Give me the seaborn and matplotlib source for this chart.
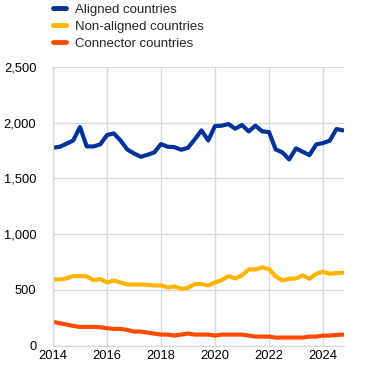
import numpy as np
import pandas as pd
import matplotlib
matplotlib.use("Agg")
import matplotlib.pyplot as plt
import seaborn as sns
from matplotlib.ticker import FuncFormatter

# Quarterly data, 2014Q1 - 2024Q4
quarters = [2014 + 0.25 * i for i in range(44)]
aligned = [1775, 1784, 1811, 1841, 1961, 1787, 1787, 1805, 1889, 1904,
           1841, 1760, 1724, 1694, 1712, 1733, 1808, 1784, 1781, 1757,
           1775, 1850, 1931, 1841, 1970, 1973, 1988, 1946, 1979, 1922,
           1973, 1922, 1916, 1760, 1733, 1670, 1769, 1739, 1709, 1805,
           1817, 1838, 1943, 1931]
non_aligned = [593, 593, 602, 623, 623, 620, 587, 596, 566, 584,
               566, 548, 548, 548, 545, 539, 539, 521, 530, 509,
               518, 551, 551, 539, 566, 587, 623, 602, 629, 683,
               683, 701, 686, 620, 584, 599, 602, 629, 599, 644,
               662, 644, 650, 653]
connector = [212, 200, 188, 176, 167, 167, 167, 164, 155, 149,
             149, 140, 125, 125, 116, 107, 98, 98, 89, 98,
             107, 98, 98, 98, 89, 98, 98, 98, 98, 89,
             80, 80, 80, 71, 71, 71, 71, 71, 80, 80,
             89, 89, 95, 98]
series_names = ["Aligned countries", "Non-aligned countries", "Connector countries"]
colors = ["#003299", "#ffb400", "#ff4b00"]
x_ticks = [2014, 2016, 2018, 2020, 2022, 2024]
y_ticks = [0, 500, 1000, 1500, 2000, 2500]

df = pd.DataFrame({
    "date": quarters * 3,
    "value": aligned + non_aligned + connector,
    "series": [series_names[0]] * 44 + [series_names[1]] * 44 + [series_names[2]] * 44,
})

sns.set_theme(style="white")
plt.rcParams["font.family"] = ["Liberation Sans", "DejaVu Sans"]

fig = plt.figure(figsize=(3.71, 3.73), dpi=100)
ax = fig.add_axes([53 / 371, 1 - 345.5 / 373, (344 - 53) / 371, (345.5 - 67) / 373])

sns.lineplot(data=df, x="date", y="value", hue="series", palette=colors,
             hue_order=series_names, linewidth=3, ax=ax, legend=False)

ax.set_xlim(2014, 2024.78)
ax.set_ylim(0, 2500)
ax.set_xticks(x_ticks)
ax.set_yticks(y_ticks)
ax.yaxis.set_major_formatter(FuncFormatter(lambda v, p: f"{int(v):,}"))
ax.grid(True, color="#d9d9d9", linewidth=1)
ax.set_axisbelow(True)
for s in ["top", "right"]:
    ax.spines[s].set_visible(False)
for s in ["left", "bottom"]:
    ax.spines[s].set_color("#d9d9d9")
    ax.spines[s].set_linewidth(1)
ax.tick_params(axis="both", length=0, labelsize=9.3, colors="#000000")
ax.tick_params(axis="y", pad=12)
ax.tick_params(axis="x", pad=3)
ax.set_xlabel("")
ax.set_ylabel("")

handles = [plt.Line2D([], [], color=c, linewidth=3.5) for c in colors]
fig.legend(handles, series_names, loc="upper left", bbox_to_anchor=(53 / 371, 1 - 3.5 / 373),
           frameon=False, fontsize=9.5, handlelength=1.0, handletextpad=0.7,
           labelspacing=0.36, borderaxespad=0.0, borderpad=0.0)

fig.savefig("out.png", dpi=100)
